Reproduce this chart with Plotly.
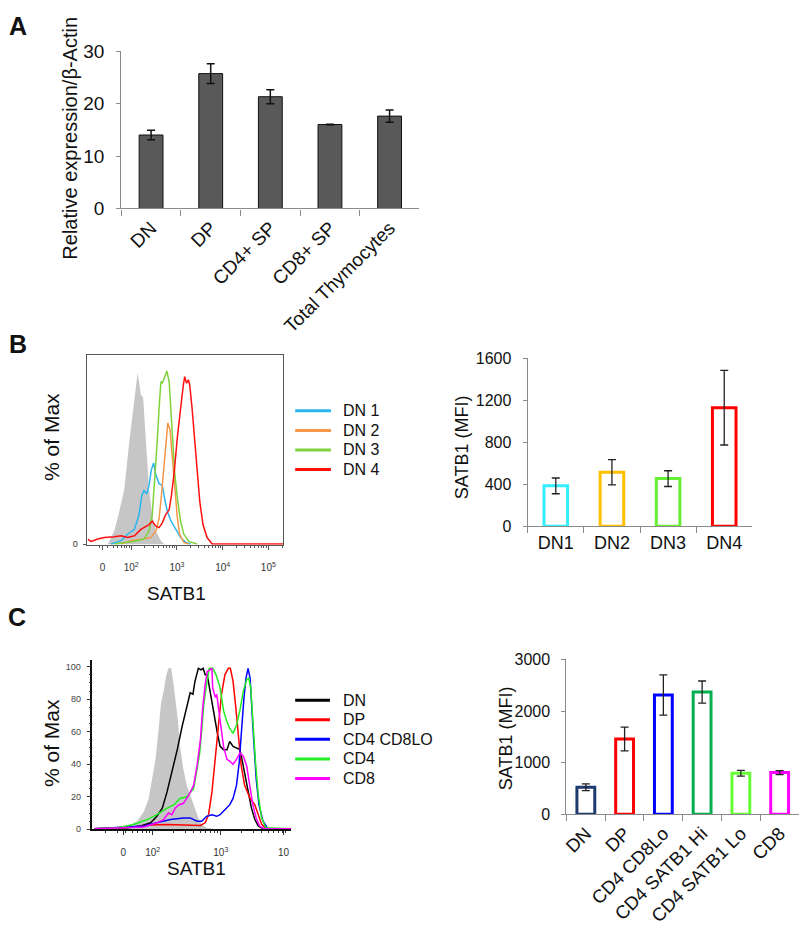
import math
import plotly.graph_objects as go

W, H = 800, 942
FONT = "Arial, Liberation Sans, sans-serif"

# ---------------- Panel A data ----------------
a_cats = ["DN", "DP", "CD4+ SP", "CD8+ SP", "Total Thymocytes"]
a_vals = [14.0, 25.7, 21.3, 16.0, 17.6]
a_err = [0.9, 1.9, 1.35, 0.05, 1.15]

# ---------------- Panel B histogram (x in log10 units, y in % of max) ----------------
b_ctrl_x = [1.49, 1.63, 1.74, 1.85, 1.96, 2.01, 2.07, 2.14, 2.17, 2.21, 2.26, 2.30, 2.36, 2.39, 2.46, 2.54, 2.65, 2.72]
b_ctrl_y = [0.2, 7.7, 19, 32, 60, 71.5, 86.5, 99, 94, 86.5, 84.6, 69.6, 45, 32, 17, 7.7, 2, 0.2]

b_dn1_x = [1.56, 1.78, 1.92, 2.07, 2.17, 2.23, 2.28, 2.34, 2.39, 2.44, 2.49, 2.54, 2.61, 2.68, 2.73, 2.79, 2.86, 2.97, 3.08, 3.19, 3.30]
b_dn1_y = [0.2, 2.1, 5.8, 8.6, 17, 28, 31, 29, 34, 43, 47, 40, 35, 34, 26.5, 19, 14, 8.6, 3.9, 1.1, 0.2]

b_dn2_x = [1.78, 1.99, 2.28, 2.43, 2.54, 2.61, 2.66, 2.72, 2.77, 2.80, 2.85, 2.90, 2.95, 3.01, 3.06, 3.15, 3.26]
b_dn2_y = [0.2, 2, 3, 4, 7.7, 15, 28, 45, 60, 70, 66, 49, 32, 15, 5.8, 1.1, 0.2]

b_dn3_x = [1.63, 2.07, 2.28, 2.39, 2.46, 2.52, 2.57, 2.61, 2.65, 2.68, 2.72, 2.78, 2.83, 2.86, 2.90, 2.95, 3.01, 3.08, 3.15, 3.26, 3.44]
b_dn3_y = [0.2, 1.7, 3, 7.7, 17, 38, 60, 79, 94, 93, 96, 100, 94, 79, 60, 41.5, 26.5, 13.3, 5.8, 1.7, 0.2]

b_dn4_x = [1.05, 1.12, 1.27, 1.41, 1.63, 1.78, 1.92, 2.07, 2.21, 2.32, 2.39, 2.46, 2.54, 2.61, 2.68, 2.75, 2.83, 2.88,
           2.94, 3.01, 3.08, 3.14, 3.17, 3.21, 3.25, 3.28, 3.33, 3.39, 3.44, 3.50, 3.57, 3.66, 3.77, 5.33]
b_dn4_y = [3, 1.7, 3, 3.9, 4.3, 4.9, 3.9, 4.9, 8.6, 10.5, 11.4, 13.3, 10.5, 9.6, 12.4, 17, 19.9, 28.3,
           41.5, 62, 79, 92, 96.8, 93, 95, 92, 79, 60, 41.5, 24.6, 11.4, 3.9, 0.2, 0.2]

b_names = ["DN 1", "DN 2", "DN 3", "DN 4"]
b_colors = ["#29B6EE", "#F79646", "#7ED33C", "#FF1010"]

# ---------------- Panel B bars ----------------
b_bar_cats = ["DN1", "DN2", "DN3", "DN4"]
b_bar_vals = [384, 514, 453, 1128]
b_bar_err = [75, 120, 75, 355]
b_bar_colors = ["#33EEFF", "#FFC000", "#66EE33", "#FF0000"]

# ---------------- Panel C histogram ----------------
c_ctrl_x = [1.48, 1.67, 1.77, 1.87, 1.94, 1.99, 2.04, 2.09, 2.12, 2.16, 2.20, 2.23, 2.27, 2.30, 2.33, 2.37, 2.40, 2.45,
            2.50, 2.55, 2.62, 2.67, 2.72, 2.79, 2.89]
c_ctrl_y = [1, 3, 5, 11, 19, 31, 43, 63, 77, 85, 95, 99, 99, 91, 81, 67, 51, 37, 27, 21, 13, 7, 3, 1, 0.4]

c_dn_x = [1.14, 1.63, 1.82, 1.97, 2.06, 2.14, 2.21, 2.28, 2.36, 2.43, 2.50, 2.55, 2.59, 2.62, 2.67, 2.71, 2.74, 2.77,
          2.80, 2.84, 2.88, 2.92, 2.95, 2.99, 3.04, 3.09, 3.13, 3.18, 3.23, 3.28, 3.32, 3.35, 3.40, 3.45, 3.50, 3.55,
          3.62, 4.03]
c_dn_y = [0.4, 1, 2, 4, 8, 13, 23, 35, 49, 63, 75, 84, 83, 91, 99, 98, 99, 95,
          95, 85, 77, 67, 59, 51, 49, 49, 54, 51, 50, 49, 41, 35, 23, 13, 6, 2,
          0.4, 0.4]

c_dp_x = [1.14, 1.72, 1.97, 2.21, 2.45, 2.70, 2.77, 2.82, 2.87, 2.92, 2.96, 3.01, 3.06, 3.11, 3.14, 3.18, 3.22, 3.26,
          3.30, 3.35, 3.43, 3.50, 3.55, 3.60, 3.67, 4.03]
c_dp_y = [0.4, 1.4, 2.6, 3, 2.6, 2.4, 4, 9, 23, 43, 63, 83, 95, 99, 99, 91, 75, 57,
          39, 27, 19, 15, 9, 3, 0.4, 0.4]

c_lo_x = [1.14, 1.87, 2.06, 2.26, 2.45, 2.55, 2.65, 2.72, 2.79, 2.87, 2.94, 2.99, 3.06, 3.13, 3.18, 3.23, 3.27, 3.30,
          3.34, 3.37, 3.40, 3.43, 3.45, 3.48, 3.52, 3.56, 3.62, 3.69, 4.03]
c_lo_y = [0.4, 2, 4, 6, 7, 7, 5, 5, 8, 9, 8, 9, 12, 15, 19, 27, 41, 61,
          81, 93, 99, 93, 81, 57, 31, 15, 5, 0.4, 0.4]

c_cd4_x = [1.14, 1.48, 1.72, 1.92, 2.06, 2.21, 2.31, 2.40, 2.50, 2.60, 2.65, 2.69, 2.72, 2.75, 2.79, 2.83, 2.88, 2.93,
           2.99, 3.04, 3.09, 3.13, 3.18, 3.23, 3.28, 3.33, 3.38, 3.41, 3.44, 3.47, 3.51, 3.55, 3.60, 3.66, 4.03]
c_cd4_y = [0.4, 1, 3, 6, 9, 13, 15, 19, 20, 25, 37, 47, 61, 77, 89, 99, 99, 95,
           87, 73, 66, 62, 59, 64, 73, 85, 92, 93, 87, 67, 41, 21, 7, 1, 0.4]

c_cd8_x = [1.14, 1.87, 2.06, 2.16, 2.23, 2.28, 2.33, 2.38, 2.45, 2.53, 2.60, 2.65, 2.70, 2.73, 2.77, 2.80, 2.84, 2.87,
           2.88, 2.92, 2.94, 2.99, 3.04, 3.09, 3.13, 3.18, 3.23, 3.28, 3.33, 3.38, 3.43, 3.47, 3.52, 3.57, 3.64, 4.03]
c_cd8_y = [0.4, 1.4, 4, 6, 10, 9, 13, 15, 16, 21, 27, 39, 55, 73, 89, 97, 98, 99,
           87, 81, 83, 67, 51, 43, 42, 40, 43, 47, 45, 39, 27, 15, 7, 2, 0.4, 0.4]

c_names = ["DN", "DP", "CD4 CD8LO", "CD4", "CD8"]
c_colors = ["#000000", "#FF0000", "#0000FF", "#22EE22", "#FF00FF"]

# ---------------- Panel C bars ----------------
c_bar_cats = ["DN", "DP", "CD4 CD8Lo", "CD4 SATB1 Hi", "CD4 SATB1 Lo", "CD8"]
c_bar_vals = [525, 1459, 2311, 2368, 796, 809]
c_bar_err = [65, 230, 390, 215, 55, 40]
c_bar_colors = ["#1F3A6E", "#FF0000", "#0000FF", "#00B050", "#66FF33", "#FF00FF"]


def fx(p):
    return p / W


def fy(p):
    return 1 - p / H


fig = go.Figure()

# A
fig.add_trace(go.Bar(
    x=a_cats, y=a_vals, width=0.4, xaxis="x", yaxis="y",
    marker=dict(color="#595959", line=dict(color="#111111", width=1)),
    error_y=dict(type="data", array=a_err, color="#111111", thickness=1.5, width=4),
))

# B histogram
fig.add_trace(go.Scatter(x=b_ctrl_x, y=b_ctrl_y, mode="lines", fill="tozeroy",
                         fillcolor="#C6C6C6", line=dict(width=0, color="#C6C6C6"),
                         xaxis="x2", yaxis="y2"))
for xs, ys, c in zip([b_dn1_x, b_dn2_x, b_dn3_x, b_dn4_x], [b_dn1_y, b_dn2_y, b_dn3_y, b_dn4_y], b_colors):
    fig.add_trace(go.Scatter(x=xs, y=ys, mode="lines", line=dict(color=c, width=1.5),
                             xaxis="x2", yaxis="y2"))

# B bars
fig.add_trace(go.Bar(
    x=b_bar_cats, y=b_bar_vals, width=0.42, xaxis="x3", yaxis="y3",
    marker=dict(color="white", line=dict(color=b_bar_colors, width=3)),
    error_y=dict(type="data", array=b_bar_err, color="#222222", thickness=1.3, width=4),
))

# C histogram
fig.add_trace(go.Scatter(x=c_ctrl_x, y=c_ctrl_y, mode="lines", fill="tozeroy",
                         fillcolor="#C6C6C6", line=dict(width=0, color="#C6C6C6"),
                         xaxis="x4", yaxis="y4"))
c_xs = [c_dn_x, c_dp_x, c_lo_x, c_cd4_x, c_cd8_x]
c_ys = [c_dn_y, c_dp_y, c_lo_y, c_cd4_y, c_cd8_y]
for xs, ys, c in zip(c_xs, c_ys, c_colors):
    fig.add_trace(go.Scatter(x=xs, y=ys, mode="lines", line=dict(color=c, width=1.5),
                             xaxis="x4", yaxis="y4"))

# C bars
fig.add_trace(go.Bar(
    x=c_bar_cats, y=c_bar_vals, width=0.46, xaxis="x5", yaxis="y5",
    marker=dict(color="white", line=dict(color=c_bar_colors, width=3)),
    error_y=dict(type="data", array=c_bar_err, color="#222222", thickness=1.3, width=4),
))

gray = "#8a8a8a"
bar_x = dict(type="category", showline=True, linecolor=gray, linewidth=1.2, ticks="outside",
             tickson="boundaries", ticklen=6, tickcolor=gray, showgrid=False, zeroline=False,
             tickfont=dict(size=19, color="#111111", family=FONT))
bar_y = dict(showline=True, linecolor=gray, linewidth=1.2, ticks="outside", ticklen=4, tickcolor=gray,
             showgrid=False, zeroline=False, ticklabelstandoff=8,
             tickfont=dict(size=19, color="#111111", family=FONT))

# log-like minor ticks for the flow plots
minor_vals = [d + math.log10(k) for d in range(1, 6) for k in range(2, 10)]

fig.update_layout(
    width=W, height=H, autosize=False, showlegend=False,
    margin=dict(l=0, r=0, t=0, b=0),
    paper_bgcolor="white", plot_bgcolor="white",
    font=dict(family=FONT, color="#111111"),
    xaxis=dict(bar_x, domain=[fx(117), fx(417)], anchor="y", tickangle=-45),
    yaxis=dict(bar_y, domain=[fy(203), fy(42)], anchor="x", range=[0, 30], dtick=10),
    xaxis2=dict(domain=[fx(83), fx(280)], anchor="y2", range=[1.043, 5.326], showgrid=False,
                zeroline=False, showline=True, mirror=True, linecolor="#555555", linewidth=1,
                tickmode="array", tickvals=[1.37, 2, 3, 4, 5],
                ticktext=["0", "10<sup>2</sup>", "10<sup>3</sup>", "10<sup>4</sup>", "10<sup>5</sup>"],
                ticks="outside", ticklen=4, tickcolor="#555555", ticklabelstandoff=9,
                minor=dict(tickmode="array", tickvals=minor_vals, ticks="outside", ticklen=2,
                           tickcolor="#555555"),
                tickfont=dict(size=10, color="#333333")),
    yaxis2=dict(domain=[fy(547), fy(352.7)], anchor="x2", range=[-0.3, 109.4], showgrid=False,
                zeroline=False, showline=True, mirror=True, linecolor="#555555", linewidth=1,
                tickmode="array", tickvals=[0], ticktext=["0"], ticks="outside", ticklen=3,
                ticklabelstandoff=4,
                tickcolor="#555555", tickfont=dict(size=9, color="#333333")),
    xaxis3=dict(bar_x, domain=[fx(526), fx(752)], anchor="y3", tickfont=dict(size=18)),
    yaxis3=dict(bar_y, domain=[fy(528), fy(356)], anchor="x3", range=[0, 1600], dtick=400,
                tickfont=dict(size=16)),
    xaxis4=dict(domain=[fx(88), fx(288)], anchor="y4", range=[1.114, 4.034], showgrid=False,
                zeroline=False, showline=True, linecolor="#111111", linewidth=1.5,
                tickmode="array", tickvals=[1.567, 2, 3, 3.92],
                ticktext=["0", "10<sup>2</sup>", "10<sup>3</sup>", "10"],
                ticks="outside", ticklen=4, tickcolor="#333333", ticklabelstandoff=9,
                minor=dict(tickmode="array", tickvals=[v for v in minor_vals if v < 4.03],
                           ticks="outside", ticklen=2, tickcolor="#333333"),
                tickfont=dict(size=10, color="#333333")),
    yaxis4=dict(domain=[fy(838), fy(665)], anchor="x4", range=[0, 104], showgrid=False,
                zeroline=False, showline=True, linecolor="#111111", linewidth=1.5,
                tickmode="array", tickvals=[0, 20, 40, 60, 80, 100], ticks="outside", ticklen=4,
                ticklabelstandoff=4,
                tickcolor="#333333", minor=dict(dtick=5, ticks="outside", ticklen=2, tickcolor="#333333"),
                tickfont=dict(size=9, color="#444444")),
    xaxis5=dict(bar_x, domain=[fx(565), fx(799)], anchor="y5", tickangle=-45, tickfont=dict(size=18.5)),
    yaxis5=dict(bar_y, domain=[fy(822.7), fy(664.3)], anchor="x5", range=[0, 3000], dtick=1000,
                tickfont=dict(size=16)),
)

ann = []


def text(t, x, y, size, angle=0, bold=False):
    ann.append(dict(text=("<b>%s</b>" % t) if bold else t, x=fx(x), y=fy(y), xref="paper", yref="paper",
                    showarrow=False, textangle=angle, xanchor="center", yanchor="middle",
                    font=dict(size=size, family=FONT, color="#111111")))


text("A", 13, 16, 25, bold=True)
text("B", 13, 342, 25, bold=True)
text("C", 12, 621, 25, bold=True)
text("Relative expression/β-Actin", 65, 131, 20, angle=-90)
text("% of Max", 47, 437, 21, angle=-90)
text("SATB1", 173, 597, 19)
text("SATB1 (MFI)", 460, 447, 18, angle=-90)
text("% of Max", 47, 750, 21, angle=-90)
text("SATB1", 193, 878, 19)
text("SATB1 (MFI)", 505, 745, 18, angle=-90)

shapes = []
for i, (name, c) in enumerate(zip(b_names, b_colors)):
    yy = 410 + i * 20
    shapes.append(dict(type="line", xref="paper", yref="paper", x0=fx(292), x1=fx(328), y0=fy(yy), y1=fy(yy),
                       line=dict(color=c, width=3)))
    ann.append(dict(text=name, x=fx(338), y=fy(yy), xref="paper", yref="paper", showarrow=False,
                    xanchor="left", yanchor="middle", font=dict(size=16, family=FONT, color="#111111")))
for i, (name, c) in enumerate(zip(c_names, c_colors)):
    yy = 706 + i * 20
    shapes.append(dict(type="line", xref="paper", yref="paper", x0=fx(292), x1=fx(327), y0=fy(yy), y1=fy(yy),
                       line=dict(color=c, width=3)))
    ann.append(dict(text=name, x=fx(338), y=fy(yy), xref="paper", yref="paper", showarrow=False,
                    xanchor="left", yanchor="middle", font=dict(size=16, family=FONT, color="#111111")))

fig.update_layout(annotations=ann, shapes=shapes)

# drop the default 8px body margin so the 800x942 figure sits flush in the window
fig.write_html("out.html", config={"displayModeBar": False},
               post_script="document.body.style.margin='0px';")
